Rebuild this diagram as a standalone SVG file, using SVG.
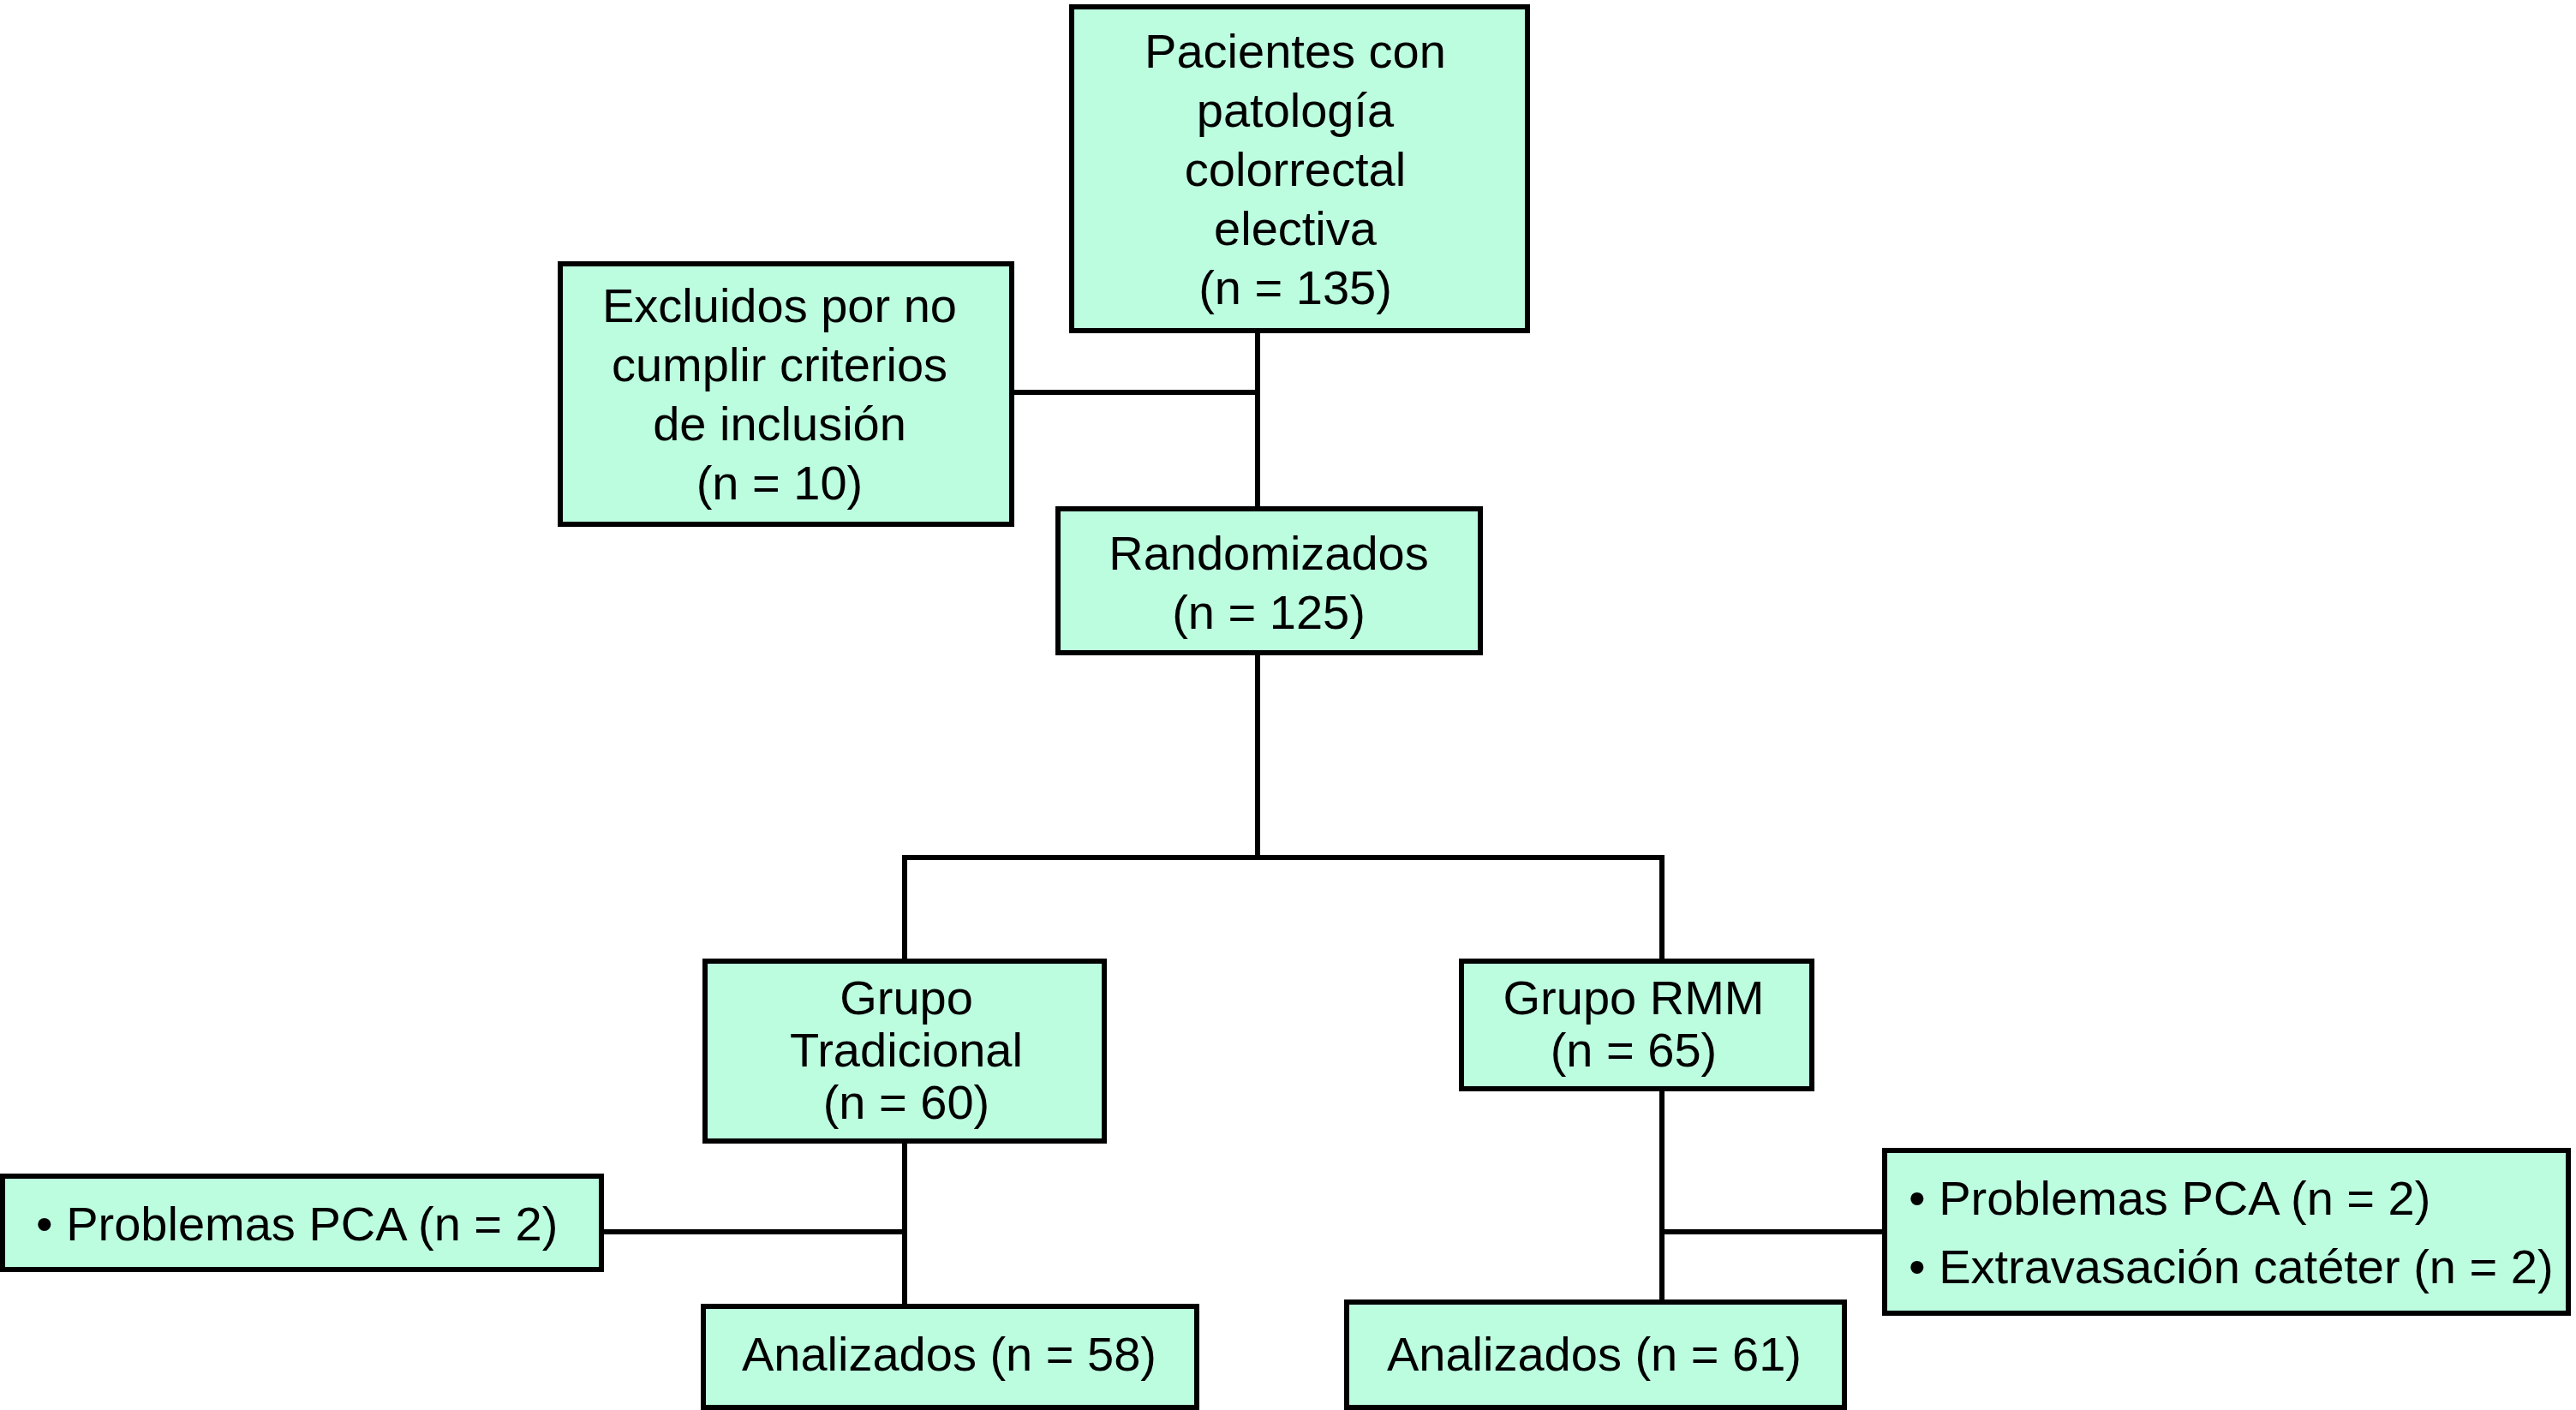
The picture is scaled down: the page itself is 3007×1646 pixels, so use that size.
<svg xmlns="http://www.w3.org/2000/svg" width="3007" height="1646" viewBox="0 0 3007 1646">
<style>
.box{fill:#bcfde0;stroke:#000;stroke-width:6}
.t{font-family:"Liberation Sans",Arial,Helvetica,sans-serif;font-size:56px;fill:#000}
.c{text-anchor:middle}
.ln{fill:none;stroke:#000;stroke-width:6}
</style>
<rect width="3007" height="1646" fill="#fff"/>
<g id="connectors">
<path class="ln" d="M1468 386 V594"/>
<path class="ln" d="M1184 458 H1468"/>
<path class="ln" d="M1468 765 V1001"/>
<path class="ln" d="M1056 1120 V1001 H1940 V1120"/>
<path class="ln" d="M1056 1335 V1522"/>
<path class="ln" d="M705 1438 H1056"/>
<path class="ln" d="M1940 1274 V1517"/>
<path class="ln" d="M1940 1438 H2197"/>
</g>
<g id="pacientes">
<rect class="box" x="1251" y="8" width="532" height="378"/>
<text class="t c" x="1512" y="79">Pacientes con</text>
<text class="t c" x="1512" y="148">patología</text>
<text class="t c" x="1512" y="217">colorrectal</text>
<text class="t c" x="1512" y="286">electiva</text>
<text class="t c" x="1512" y="355">(n = 135)</text>
</g>
<g id="excluidos">
<rect class="box" x="654" y="308" width="527" height="304"/>
<text class="t c" x="910" y="376">Excluidos por no</text>
<text class="t c" x="910" y="445">cumplir criterios</text>
<text class="t c" x="910" y="514">de inclusión</text>
<text class="t c" x="910" y="583">(n = 10)</text>
</g>
<g id="randomizados">
<rect class="box" x="1235" y="594" width="493" height="168"/>
<text class="t c" x="1481" y="665">Randomizados</text>
<text class="t c" x="1481" y="734">(n = 125)</text>
</g>
<g id="grupo-tradicional">
<rect class="box" x="823" y="1122" width="466" height="210"/>
<text class="t c" x="1058" y="1184">Grupo</text>
<text class="t c" x="1058" y="1245">Tradicional</text>
<text class="t c" x="1058" y="1306">(n = 60)</text>
</g>
<g id="grupo-rmm">
<rect class="box" x="1706" y="1122" width="409" height="149"/>
<text class="t c" x="1907" y="1184">Grupo RMM</text>
<text class="t c" x="1907" y="1245">(n = 65)</text>
</g>
<g id="perdidas-tradicional">
<rect class="box" x="3" y="1373" width="699" height="109"/>
<text class="t" x="42" y="1448">• Problemas PCA (n = 2)</text>
</g>
<g id="perdidas-rmm">
<rect class="box" x="2200" y="1343" width="798" height="190"/>
<text class="t" x="2228" y="1418">• Problemas PCA (n = 2)</text>
<text class="t" x="2228" y="1498">• Extravasación catéter (n = 2)</text>
</g>
<g id="analizados-tradicional">
<rect class="box" x="821" y="1525" width="576" height="118"/>
<text class="t c" x="1108" y="1600">Analizados (n = 58)</text>
</g>
<g id="analizados-rmm">
<rect class="box" x="1572" y="1520" width="581" height="123"/>
<text class="t c" x="1861" y="1600">Analizados (n = 61)</text>
</g>
</svg>
